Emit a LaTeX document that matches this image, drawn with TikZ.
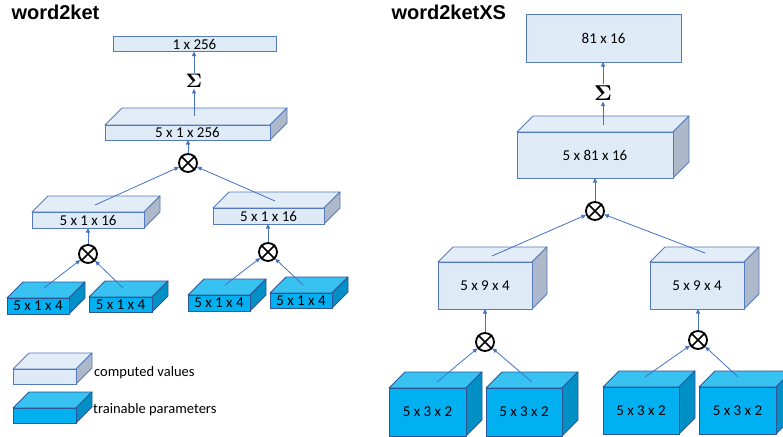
\documentclass[tikz,border=0pt]{standalone}
\usepackage[no-math]{fontspec}
\setmainfont{Carlito}
\newfontfamily\titlefont{Liberation Sans}
\usetikzlibrary{arrows.meta}
\definecolor{conn}{HTML}{4472C4}
\definecolor{lfront}{HTML}{DEEBF7}
\definecolor{ltop}{HTML}{E2EDF8}
\definecolor{lside}{HTML}{ADB9CA}
\definecolor{ledge}{HTML}{5479BD}
\definecolor{bfront}{HTML}{00B0F0}
\definecolor{btop}{HTML}{38C2F2}
\definecolor{bside}{HTML}{0090C6}
\definecolor{bedge}{HTML}{2F5597}
\tikzset{
  lightfront/.style={draw=ledge, fill=lfront, line width=0.8pt, inner sep=0pt, outer sep=0pt, font=\fontsize{15}{15}\selectfont},
  lighttop/.style={draw=ledge, fill=ltop, line width=0.8pt, line join=round},
  lightside/.style={draw=ledge, fill=lside, line width=0.8pt, line join=round},
  bluefront/.style={draw=bedge, fill=bfront, line width=0.8pt, inner sep=0pt, outer sep=0pt, font=\fontsize{15}{15}\selectfont},
  bluetop/.style={draw=bedge, fill=btop, line width=0.8pt, line join=round},
  blueside/.style={draw=bedge, fill=bside, line width=0.8pt, line join=round},
  arr/.style={draw=conn, line width=0.8pt, -{Triangle[length=4.5pt,width=4pt]}},
  otimes/.style={circle, draw=black, line width=1.8pt, minimum size=18pt, inner sep=0pt},
  xline/.style={draw=black, line width=1.6pt},
  sigma/.style={inner sep=1pt},
  title/.style={anchor=base west, font=\titlefont\bfseries\fontsize{20}{20}\selectfont},
  legendtext/.style={anchor=west, inner sep=0pt, font=\fontsize{14.5}{14.5}\selectfont}
}
% name, x1, y1, x2, y2, depth, kind (light/blue), label
\newcommand\cubebox[8]{%
  \path[#7top] (#2,#3) -- ({#2+#6},{#3-#6}) -- ({#4+#6},{#3-#6}) -- (#4,#3) -- cycle;
  \path[#7side] (#4,#3) -- ({#4+#6},{#3-#6}) -- ({#4+#6},{#5-#6}) -- (#4,#5) -- cycle;
  \node[#7front, minimum width={#4-#2}, minimum height={#5-#3}] (#1) at ({(#2+#4)/2},{(#3+#5)/2}) {#8};
}
\newcommand\otimesnode[3]{%
  \node[otimes] (#1) at (#2,#3) {};
  \draw[xline] (#1.north west) -- (#1.south east) (#1.north east) -- (#1.south west);
}
\begin{document}
\begin{tikzpicture}[x=1pt, y=-1pt]
\path[use as bounding box] (0,0) rectangle (783,436);
\fill[white] (0,0) rectangle (783,436);
\clip (0,0) rectangle (783,436);

% ---------------- word2ket ----------------
\node[title] (t1) at (8,20) {word2ket};
\node[lightfront, minimum width=163pt, minimum height=15pt] (b1) at (194.5,44) {1 x 256};
\node[sigma] (s1) at (194,81) {\scalebox{1.95}{$\mathbf{\Sigma}$}};
\cubebox{b256}{105}{125}{270}{140}{17}{light}{5 x 1 x 256}
\otimesnode{o1}{188}{163}
\cubebox{b16a}{32}{212}{144}{228}{16}{light}{5 x 1 x 16}
\cubebox{b16b}{213}{208}{324}{224}{16}{light}{5 x 1 x 16}
\otimesnode{o2}{88}{254}
\otimesnode{o3}{268}{252}
\cubebox{b4a}{7}{298}{69}{314}{16}{blue}{5 x 1 x 4}
\cubebox{b4b}{89}{297}{152}{312}{16}{blue}{5 x 1 x 4}
\cubebox{b4c}{188}{295}{250}{311}{16}{blue}{5 x 1 x 4}
\cubebox{b4d}{270}{293}{332}{308}{16}{blue}{5 x 1 x 4}

\coordinate (c256) at (194,116);
\coordinate (c16a) at (95,205);
\coordinate (c16b) at (275,201);
\coordinate (c4a) at (44,288);
\coordinate (c4b) at (123,288);
\coordinate (c4c) at (225,285);
\coordinate (c4d) at (303,285);

\draw[arr] (c256) -- (s1);
\draw[arr] (s1) -- (s1 |- b1.south);
\draw[arr] (o1) -- (o1 |- b256.south);
\draw[arr] (c16a) -- (o1);
\draw[arr] (c16b) -- (o1);
\draw[arr] (o2) -- (o2 |- b16a.south);
\draw[arr] (o3) -- (o3 |- b16b.south);
\draw[arr] (c4a) -- (o2);
\draw[arr] (c4b) -- (o2);
\draw[arr] (c4c) -- (o3);
\draw[arr] (c4d) -- (o3);

% legend
\cubebox{lg1}{13}{369}{76}{384}{16}{light}{}
\node[legendtext] (lt1) at (94,373) {computed values};
\cubebox{lg2}{13}{408}{76}{423}{16}{blue}{}
\node[legendtext] (lt2) at (93,410) {trainable parameters};

% ---------------- word2ketXS ----------------
\node[title] (t2) at (388,20) {word2ketXS};
\node[lightfront, minimum width=155pt, minimum height=48pt] (b81) at (603.5,38) {81 x 16};
\node[sigma] (s2) at (603,93) {\scalebox{2.15}{$\mathbf{\Sigma}$}};
\cubebox{b581}{517}{132}{673}{178}{16}{light}{5 x 81 x 16}
\otimesnode{o4}{595}{211}
\cubebox{b9a}{438}{262}{532}{309}{15}{light}{5 x 9 x 4}
\cubebox{b9b}{650}{262}{744}{309}{15}{light}{5 x 9 x 4}
\otimesnode{o5}{485}{342}
\otimesnode{o6}{698}{340}
\cubebox{b3a}{389}{388}{466}{436}{16}{blue}{5 x 3 x 2}
\cubebox{b3b}{486}{388}{562}{436}{16}{blue}{5 x 3 x 2}
\cubebox{b3c}{603}{387}{679}{434}{16}{blue}{5 x 3 x 2}
\cubebox{b3d}{699}{387}{776}{434}{16}{blue}{5 x 3 x 2}

\coordinate (c581) at (603,125);
\coordinate (c9a) at (492,256);
\coordinate (c9b) at (705,253);
\coordinate (c3a) at (437,382);
\coordinate (c3b) at (532,382);
\coordinate (c3c) at (645,377);
\coordinate (c3d) at (738,377);

\draw[arr] (c581) -- (s2);
\draw[arr] (s2) -- (s2 |- b81.south);
\draw[arr] (o4) -- (o4 |- b581.south);
\draw[arr] (c9a) -- (o4);
\draw[arr] (c9b) -- (o4);
\draw[arr] (o5) -- (o5 |- b9a.south);
\draw[arr] (o6) -- (o6 |- b9b.south);
\draw[arr] (c3a) -- (o5);
\draw[arr] (c3b) -- (o5);
\draw[arr] (c3c) -- (o6);
\draw[arr] (c3d) -- (o6);
\end{tikzpicture}
\end{document}
